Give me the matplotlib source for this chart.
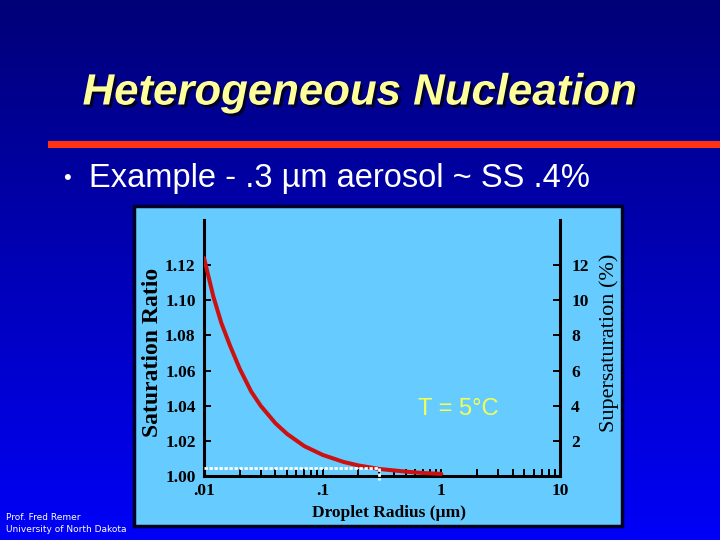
import numpy as np
import matplotlib
matplotlib.use("Agg")
import matplotlib.pyplot as plt
from matplotlib.patches import Rectangle
from matplotlib.ticker import FixedLocator, FixedFormatter, LogLocator, NullFormatter
import matplotlib.patheffects as pe

# droplet radius (um) and saturation ratio
radius = [0.01, 0.012, 0.014, 0.0166, 0.02, 0.025, 0.03, 0.04, 0.05, 0.07,
          0.1, 0.15, 0.2, 0.3, 0.5, 0.7, 1.0]
sat_ratio = [1.124, 1.102, 1.087, 1.074, 1.061, 1.048, 1.040, 1.030, 1.024, 1.017,
             1.012, 1.008, 1.006, 1.004, 1.0025, 1.0017, 1.0012]

# aerosol marker : .3 um ~ SS .4%
aero_r = 0.3
aero_s = 1.0045

x_ticks = [0.01, 0.1, 1, 10]
x_labels = [".01", ".1", "1", "10"]
y_ticks = [1.00, 1.02, 1.04, 1.06, 1.08, 1.10, 1.12]
y_labels = ["1.00", "1.02", "1.04", "1.06", "1.08", "1.10", "1.12"]
ss_ticks = [2, 4, 6, 8, 10, 12]
ss_labels = ["2", "4", "6", "8", "10", "12"]

W, H = 720, 540
fig = plt.figure(figsize=(7.2, 5.4), dpi=100)

# slide background (pixel coordinates)
bg = fig.add_axes([0, 0, 1, 1])
bg.set_xlim(0, W)
bg.set_ylim(H, 0)
bg.axis("off")
grad = np.linspace(0, 1, 256).reshape(-1, 1)
top = np.array([0.0, 0.0, 0.47])
bot = np.array([0.0, 0.0, 0.97])
img = (top + (bot - top) * grad[..., None]).reshape(256, 1, 3)
bg.imshow(img, extent=[0, W, H, 0], aspect="auto", zorder=0)

bg.text(360, 93, "Heterogeneous Nucleation", fontsize=31.5, fontweight="bold",
        fontstyle="italic", family="Liberation Sans", color="#FFFF99",
        ha="center", va="center",
        path_effects=[pe.withSimplePatchShadow(offset=(2, -2), shadow_rgbFace="#000022", alpha=0.9)])
bg.add_patch(Rectangle((48, 141), W - 48, 7, facecolor="#FF3311", edgecolor="none", zorder=2))
bg.text(67, 179, "•", fontsize=16, color="white", family="Liberation Sans",
        ha="center", va="center")
bg.text(89, 178, "Example - .3 µm aerosol ~ SS .4%", fontsize=23.5, color="white",
        family="Liberation Sans", ha="left", va="center")
bg.text(6, 518, "Prof. Fred Remer", fontsize=6.5, color="white", ha="left", va="center")
bg.text(6, 530, "University of North Dakota", fontsize=6.5, color="white", ha="left", va="center")

# light blue panel
bg.add_patch(Rectangle((134, 206), 488, 320, facecolor="#66CCFF",
                       edgecolor="#000022", linewidth=2.5, zorder=3))

bg.text(152, 352, "Saturation Ratio", rotation=90, fontsize=17, fontweight="bold",
        family="Liberation Serif", ha="center", va="center", zorder=4)
bg.text(609, 343, "Supersaturation (%)", rotation=90, fontsize=16,
        family="Liberation Serif", ha="center", va="center", zorder=4)
bg.text(389, 513, "Droplet Radius (µm)", fontsize=12.5, fontweight="bold",
        family="Liberation Serif", ha="center", va="center", zorder=4)
bg.text(458, 409, "T = 5°C", fontsize=17, color="#F2FF55",
        family="Liberation Sans", ha="center", va="center", zorder=4)

# chart
ax = fig.add_axes([204 / W, 1 - 476 / H, 356 / W, 256 / H])
ax.set_facecolor("none")
ax.set_xscale("log")
ax.set_xlim(0.01, 10)
ax.set_ylim(1.0, 1.1456)

ax.plot(radius, sat_ratio, color="#CC1111", lw=2.9, solid_capstyle="round", zorder=3)
ax.plot([0.01, aero_r], [aero_s, aero_s], color="white", lw=2, ls=(0, (1.2, 0.6)), zorder=4)
ax.plot([aero_r, aero_r], [aero_s, 0.9978], color="white", lw=2, ls=(0, (1.2, 0.6)),
        clip_on=False, zorder=4)

for s in ["top", "right"]:
    ax.spines[s].set_visible(False)
for s in ["left", "bottom"]:
    ax.spines[s].set_linewidth(2.2)
    ax.spines[s].set_color("black")

ax.xaxis.set_major_locator(FixedLocator(x_ticks))
ax.xaxis.set_major_formatter(FixedFormatter(x_labels))
ax.xaxis.set_minor_locator(LogLocator(base=10, subs=np.arange(2, 10)))
ax.xaxis.set_minor_formatter(NullFormatter())
ax.yaxis.set_major_locator(FixedLocator(y_ticks))
ax.yaxis.set_major_formatter(FixedFormatter(y_labels))

ax.tick_params(axis="x", which="both", direction="in", length=5, width=1.4, pad=5)
ax.tick_params(axis="y", which="major", direction="in", length=5, width=1.4, pad=6)
for lab in ax.get_xticklabels() + ax.get_yticklabels():
    lab.set_family("Liberation Serif")
    lab.set_fontweight("bold")
    lab.set_fontsize(12.5)

ax2 = ax.twinx()
ax2.set_facecolor("none")
ax2.set_ylim(0, 14.56)
for s in ["top", "left", "bottom"]:
    ax2.spines[s].set_visible(False)
ax2.spines["right"].set_linewidth(2.2)
ax2.yaxis.set_major_locator(FixedLocator(ss_ticks))
ax2.yaxis.set_major_formatter(FixedFormatter(ss_labels))
ax2.tick_params(axis="y", direction="in", length=5, width=1.4, pad=8)
for lab in ax2.get_yticklabels():
    lab.set_family("Liberation Serif")
    lab.set_fontweight("bold")
    lab.set_fontsize(12.5)

fig.savefig("out.png", dpi=100)
